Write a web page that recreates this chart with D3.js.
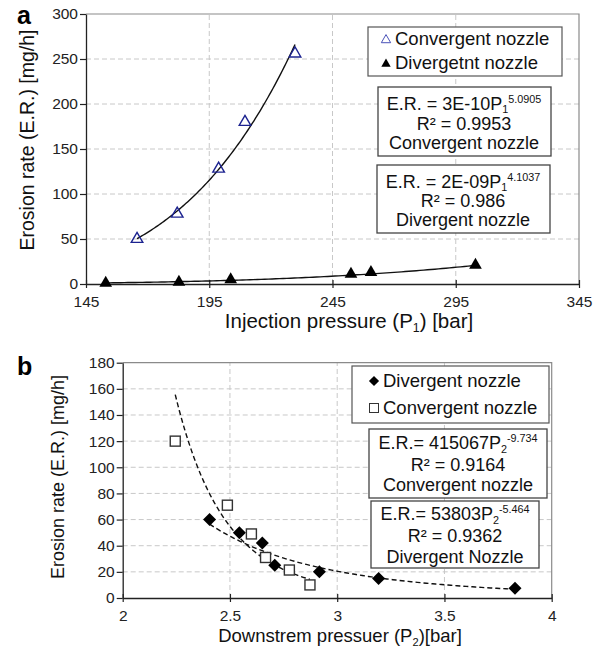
<!DOCTYPE html>
<html>
<head>
<meta charset="utf-8">
<script src="https://cdn.jsdelivr.net/npm/d3@7"></script>
<style>
    body { margin: 0; background: #fff; }
    svg { display: block; font-family: "Liberation Sans", Arial, sans-serif; }
</style>
</head>
<body>
<svg id="chart" width="602" height="649"></svg>
<script>
// panel a: injection pressure
const convA_P = [165.7, 182, 198.8, 209.5, 229.8]
const convA_ER = [50, 78, 128, 180, 256]
const divA_P = [153, 182.7, 203.7, 252.5, 260.6, 303]
const divA_ER = [1, 2, 5, 11, 13, 21]
const ticksAx = [145, 195, 245, 295, 345]
const ticksAy = [0, 50, 100, 150, 200, 250, 300]
const expA = { conv: 5.0905, div: 4.1037 }   // exponents printed in the boxes

// panel b: downstream pressure
const divB_P = [2.405, 2.544, 2.651, 2.709, 2.917, 3.193, 3.829]
const divB_ER = [60, 50, 42, 25, 20, 15, 7.4]
const convB_P = [2.245, 2.488, 2.6, 2.666, 2.777, 2.873]
const convB_ER = [120, 71, 49, 31, 21.4, 10]
const ticksBx = [2, 2.5, 3, 3.5, 4]
const ticksBy = [0, 20, 40, 60, 80, 100, 120, 140, 160, 180]

const svg = d3.select('#chart')

// power fit y = a*x^b from the points (like an excel trendline), b can be given
function powerFit(xs, ys, bFixed) {
    const lx = xs.map(Math.log), ly = ys.map(Math.log)
    const mx = d3.mean(lx), my = d3.mean(ly)
    const b = bFixed !== undefined ? bFixed
        : d3.sum(lx, (v, i) => (v - mx) * (ly[i] - my)) / d3.sum(lx, v => (v - mx) * (v - mx))
    const a = Math.exp(my - b * mx)
    return x => a * Math.pow(x, b)
}

function drawFrame(g, x, y, xt, yt, fs, fmt) {
    const [x0, x1] = x.range(), [y0, y1] = y.range()
    // grid
    g.selectAll('.gx').data(xt.slice(1, -1)).enter().append('line')
        .attr('x1', d => x(d)).attr('x2', d => x(d)).attr('y1', y0).attr('y2', y1)
        .attr('stroke', '#c8c8c8').attr('stroke-dasharray', '5,3')
    g.selectAll('.gy').data(yt.slice(1, -1)).enter().append('line')
        .attr('y1', d => y(d)).attr('y2', d => y(d)).attr('x1', x0).attr('x2', x1)
        .attr('stroke', '#c8c8c8').attr('stroke-dasharray', '5,3')
    // top / right border
    g.append('path').attr('d', `M${x0},${y1}H${x1}V${y0}`).attr('fill', 'none').attr('stroke', '#8a8a8a').attr('stroke-width', 1.2)

    const ax = g.append('g').attr('transform', `translate(0,${y0})`)
        .call(d3.axisBottom(x).tickValues(xt).tickSize(6).tickSizeOuter(0).tickFormat(fmt))
    const ay = g.append('g').attr('transform', `translate(${x0},0)`)
        .call(d3.axisLeft(y).tickValues(yt).tickSize(6).tickSizeOuter(0))
    ;[ax, ay].forEach(a => {
        a.select('.domain').attr('stroke', '#222').attr('stroke-width', 1.3)
        a.selectAll('.tick line').attr('stroke', '#222').attr('stroke-width', 1.2)
        a.selectAll('text').attr('font-size', fs).attr('fill', '#222').attr('font-family', '"Liberation Sans", Arial, sans-serif')
    })
    ax.selectAll('.tick line').attr('y1', -4).attr('y2', 4)
    ax.selectAll('text').attr('y', 12)
    ay.selectAll('text').attr('x', -8)
}

function trend(g, x, y, xs, ys, dash, bFixed) {
    const f = powerFit(xs, ys, bFixed)
    const [lo, hi] = d3.extent(xs)
    const pts = d3.range(0, 101).map(i => lo + (hi - lo) * i / 100)
    g.append('path').datum(pts)
        .attr('d', d3.line().x(d => x(d)).y(d => y(f(d))))
        .attr('fill', 'none').attr('stroke', '#111').attr('stroke-width', 1.4)
        .attr('stroke-dasharray', dash ? '5,3' : null)
}

// centred text with sub / sup parts; cy is the line's middle
function richText(g, cx, cy, parts, fs) {
    const t = g.append('text').attr('x', cx).attr('y', cy + fs * 0.35)
        .attr('font-size', fs).attr('fill', '#111')
    let shift = 0
    parts.forEach(p => {
        const s = t.append('tspan').text(p.t)
        let target = 0
        if (p.sub) { s.attr('font-size', fs * 0.6); target = fs * 0.2 }
        if (p.sup) { s.attr('font-size', fs * 0.6); target = -fs * 0.4 }
        s.attr('dy', target - shift)
        shift = target
    })
    const w = t.node().getComputedTextLength()
    t.attr('x', cx - w / 2)
    return t
}

function eqBox(g, x0, y0, w, h, cx, lines, fs) {
    g.append('rect').attr('x', x0).attr('y', y0).attr('width', w).attr('height', h)
        .attr('fill', '#fff').attr('stroke', '#444').attr('stroke-width', 1.3)
    lines.forEach(ln => richText(g, cx, ln.y, ln.parts, fs))
}

// ---------- panel a ----------
const xA = d3.scaleLinear().domain([145, 345]).range([86, 579])
const yA = d3.scaleLinear().domain([0, 300]).range([284, 14])
const gA = svg.append('g')
drawFrame(gA, xA, yA, ticksAx, ticksAy, 15.5, d3.format('d'))

trend(gA, xA, yA, divA_P, divA_ER, false, expA.div)
trend(gA, xA, yA, convA_P, convA_ER, false, expA.conv)

const tri = d3.symbol().type(d3.symbolTriangle)
gA.selectAll('.ca').data(convA_P).enter().append('path')
    .attr('transform', (d, i) => `translate(${xA(d)},${yA(convA_ER[i])})`)
    .attr('d', tri.size(58)()).attr('fill', 'none').attr('stroke', '#1c2390').attr('stroke-width', 1.4)
gA.selectAll('.da').data(divA_P).enter().append('path')
    .attr('transform', (d, i) => `translate(${xA(d)},${yA(divA_ER[i])})`)
    .attr('d', tri.size(70)()).attr('fill', '#000')

// legend a
gA.append('rect').attr('x', 368).attr('y', 27).attr('width', 194).attr('height', 49)
    .attr('fill', '#fff').attr('stroke', '#555').attr('stroke-width', 1.2)
gA.append('path').attr('transform', 'translate(386,40)').attr('d', tri.size(38)())
    .attr('fill', 'none').attr('stroke', '#4a52b8').attr('stroke-width', 1)
gA.append('path').attr('transform', 'translate(386,64)').attr('d', tri.size(38)()).attr('fill', '#000')
gA.append('text').attr('x', 395).attr('y', 39 + 6.3).attr('font-size', 18.5).attr('fill', '#111').text('Convergent nozzle')
gA.append('text').attr('x', 395).attr('y', 63 + 6.3).attr('font-size', 18.5).attr('fill', '#111').text('Divergetnt nozzle')

eqBox(gA, 378, 87, 173, 69, 464, [
    { y: 103.5, parts: [{ t: 'E.R. = 3E-10P' }, { t: '1', sub: true }, { t: '5.0905', sup: true }] },
    { y: 123.5, parts: [{ t: 'R² = 0.9953' }] },
    { y: 143, parts: [{ t: 'Convergent nozzle' }] }
], 18)
eqBox(gA, 377, 165, 173, 68, 463, [
    { y: 181.5, parts: [{ t: 'E.R. = 2E-09P' }, { t: '1', sub: true }, { t: '4.1037', sup: true }] },
    { y: 200.5, parts: [{ t: 'R² = 0.986' }] },
    { y: 220, parts: [{ t: 'Divergent nozzle' }] }
], 18)

// axis titles a
svg.append('text').attr('transform', 'translate(27,140) rotate(-90)').attr('text-anchor', 'middle')
    .attr('dominant-baseline', 'central').attr('font-size', 19.5).attr('fill', '#111').text('Erosion rate (E.R.) [mg/h]')
richText(svg, 349, 321, [{ t: 'Injection pressure (P' }, { t: '1', sub: true }, { t: ') [bar]' }], 20.5)
svg.append('text').attr('x', 17).attr('y', 24).attr('font-size', 25).attr('font-weight', 'bold').text('a')

// ---------- panel b ----------
const xB = d3.scaleLinear().domain([2, 4]).range([122.7, 551.7])
const yB = d3.scaleLinear().domain([0, 180]).range([598, 362.7])
const gB = svg.append('g')
drawFrame(gB, xB, yB, ticksBx, ticksBy, 15.5, d3.format(''))

trend(gB, xB, yB, convB_P, convB_ER, true)
trend(gB, xB, yB, divB_P, divB_ER, true)

gB.selectAll('.cb').data(convB_P).enter().append('rect')
    .attr('x', d => xB(d) - 5).attr('y', (d, i) => yB(convB_ER[i]) - 5)
    .attr('width', 10).attr('height', 10).attr('fill', '#fff').attr('stroke', '#333').attr('stroke-width', 1.4)
// diamonds = squares turned 45 deg
gB.selectAll('.db').data(divB_P).enter().append('rect')
    .attr('transform', (d, i) => `translate(${xB(d)},${yB(divB_ER[i])}) rotate(45)`)
    .attr('x', -4.6).attr('y', -4.6).attr('width', 9.2).attr('height', 9.2).attr('fill', '#000')

// legend b
gB.append('rect').attr('x', 352).attr('y', 366).attr('width', 197).attr('height', 57)
    .attr('fill', '#fff').attr('stroke', '#555').attr('stroke-width', 1.2)
gB.append('rect').attr('transform', 'translate(374,381) rotate(45)')
    .attr('x', -3.6).attr('y', -3.6).attr('width', 7.2).attr('height', 7.2).attr('fill', '#000')
gB.append('rect').attr('x', 369.5).attr('y', 403.5).attr('width', 9).attr('height', 9)
    .attr('fill', '#fff').attr('stroke', '#333').attr('stroke-width', 1)
gB.append('text').attr('x', 383).attr('y', 381 + 6.3).attr('font-size', 18.5).attr('fill', '#111').text('Divergent nozzle')
gB.append('text').attr('x', 383).attr('y', 408 + 6.3).attr('font-size', 18.5).attr('fill', '#111').text('Convergent nozzle')

eqBox(gB, 369, 429, 178, 69, 458, [
    { y: 443, parts: [{ t: 'E.R.= 415067P' }, { t: '2', sub: true }, { t: '-9.734', sup: true }] },
    { y: 465, parts: [{ t: 'R² = 0.9164' }] },
    { y: 485, parts: [{ t: 'Convergent nozzle' }] }
], 18)
eqBox(gB, 371, 501, 168, 67, 455, [
    { y: 514, parts: [{ t: 'E.R.= 53803P' }, { t: '2', sub: true }, { t: '-5.464', sup: true }] },
    { y: 536, parts: [{ t: 'R² = 0.9362' }] },
    { y: 557, parts: [{ t: 'Divergent Nozzle' }] }
], 18)

// axis titles b
svg.append('text').attr('transform', 'translate(58,477) rotate(-90)').attr('text-anchor', 'middle')
    .attr('dominant-baseline', 'central').attr('font-size', 18).attr('fill', '#111').text('Erosion rate (E.R.) [mg/h]')
richText(svg, 340, 636, [{ t: 'Downstrem pressuer (P' }, { t: '2', sub: true }, { t: ')[bar]' }], 18.5)
svg.append('text').attr('x', 17).attr('y', 375).attr('font-size', 25).attr('font-weight', 'bold').text('b')
</script>
</body>
</html>
